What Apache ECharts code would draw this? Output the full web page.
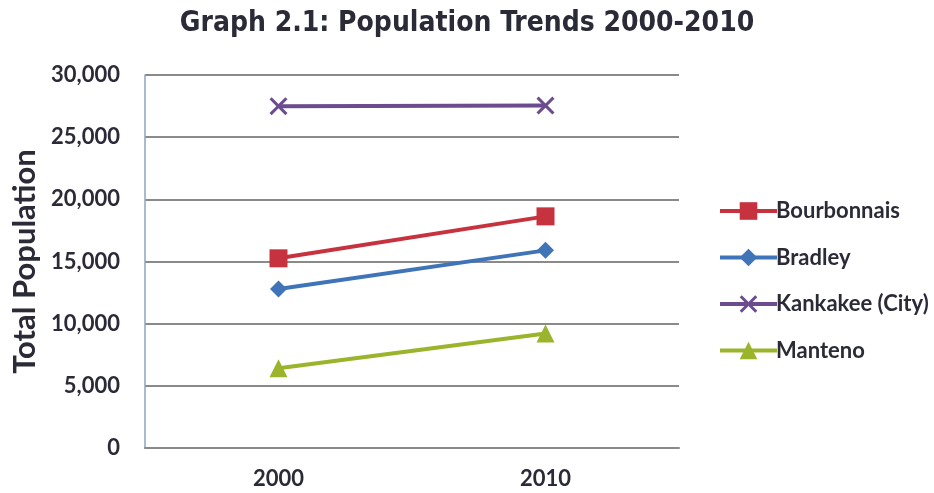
<!DOCTYPE html>
<html>
<head>
<meta charset="utf-8">
<script src="https://cdn.jsdelivr.net/npm/echarts@6/dist/echarts.min.js"></script>
<style>
  html, body { margin: 0; padding: 0; background: #ffffff; }
  #chart { width: 934px; height: 493px; }
</style>
</head>
<body>
<div id="chart"></div>
<script>
// Census years and total population per community
const years = ['2000', '2010'];
const bourbonnais = [15256, 18631];
const bradley = [12784, 15895];
const kankakee = [27491, 27537];
const manteno = [6414, 9204];

const seriesNames = ['Bourbonnais', 'Bradley', 'Kankakee (City)', 'Manteno'];
const seriesColors = ['#c7323f', '#3f74b8', '#6a4c8f', '#9ab52c'];

// Filled "X" marker outline
const crossPath = 'path://M0,1.2 L1.2,0 L5,3.8 L8.8,0 L10,1.2 L6.2,5 L10,8.8 L8.8,10 L5,6.2 L1.2,10 L0,8.8 L3.8,5 Z';

const font = 'Lato, "Open Sans", sans-serif';
const textColor = '#2b2b38';

function lineSeries(name, data, color, symbol, size) {
  return {
    name: name,
    type: 'line',
    data: data,
    symbol: symbol,
    symbolSize: size,
    lineStyle: { color: color, width: 4 },
    itemStyle: { color: color },
    emphasis: { disabled: true },
    animation: false
  };
}

const chart = echarts.init(document.getElementById('chart'), null, { renderer: 'canvas' });
chart.setOption({
  backgroundColor: '#ffffff',
  title: {
    text: 'Graph 2.1: Population Trends 2000-2010',
    left: 'center',
    top: 5,
    textStyle: {
      fontFamily: '"DejaVu Sans Condensed", "DejaVu Sans", sans-serif',
      fontWeight: 'bold',
      fontSize: 28,
      color: textColor
    }
  },
  grid: { left: 145, right: 255, top: 75, bottom: 45 },
  legend: {
    orient: 'vertical',
    left: 713,
    top: 195,
    itemGap: 24.5,
    itemWidth: 57,
    itemHeight: 22,
    data: seriesNames,
    lineStyle: { width: 4 },
    textStyle: { fontFamily: font, fontSize: 22, fontWeight: 'bold', color: textColor, padding: [0, 0, 0, -6] }
  },
  xAxis: {
    type: 'category',
    data: years,
    boundaryGap: true,
    axisLine: { show: true, lineStyle: { color: '#8a8a8a', width: 2 } },
    axisTick: { show: false },
    axisLabel: { margin: 20, fontFamily: font, fontSize: 22, fontWeight: 'bold', color: textColor }
  },
  yAxis: {
    type: 'value',
    min: 0,
    max: 30000,
    interval: 5000,
    name: 'Total Population',
    nameLocation: 'middle',
    nameGap: 104,
    nameRotate: 90,
    nameTextStyle: { fontFamily: font, fontSize: 31, fontWeight: 'bold', color: textColor },
    axisLine: { show: true, lineStyle: { color: '#8fa3bd', width: 1.5 } },
    axisTick: { show: false },
    axisLabel: {
      margin: 25,
      fontFamily: font,
      fontSize: 22,
      fontWeight: 'bold',
      color: textColor,
      formatter: function (v) { return v.toLocaleString('en-US'); }
    },
    splitLine: { show: true, lineStyle: { color: '#8a8a8a', width: 2 } }
  },
  series: [
    lineSeries(seriesNames[0], bourbonnais, seriesColors[0], 'rect', 18),
    lineSeries(seriesNames[1], bradley, seriesColors[1], 'diamond', 17),
    lineSeries(seriesNames[2], kankakee, seriesColors[2], crossPath, 18),
    lineSeries(seriesNames[3], manteno, seriesColors[3], 'triangle', 18)
  ]
});
</script>
</body>
</html>
